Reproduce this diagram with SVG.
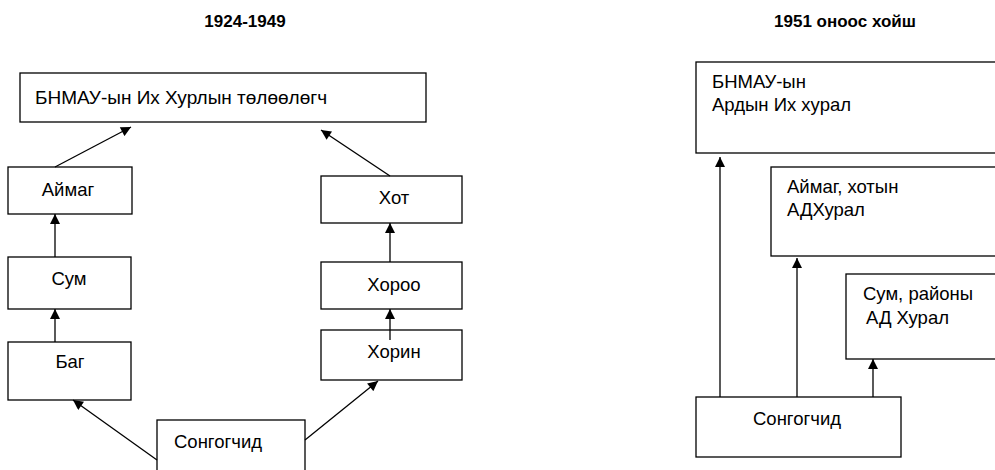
<svg xmlns="http://www.w3.org/2000/svg" width="995" height="470" viewBox="0 0 995 470">
<style>
rect{fill:#fff;stroke:#000;stroke-width:1.3}
text{font-family:"Liberation Sans",Arial,sans-serif;font-size:18.5px;fill:#000}
.b{font-size:19px}
.t{font-weight:bold;font-size:17px}
.c line{stroke:#000;stroke-width:1.3}
</style>
<defs>
<marker id="a" viewBox="0 0 10 10" refX="10" refY="5" markerWidth="11" markerHeight="10" markerUnits="userSpaceOnUse" orient="auto"><path d="M0,0L10,5L0,10z" fill="#000"/></marker>
</defs>
<rect x="0" y="0" width="995" height="470" style="stroke:none"/>
<text class="t" x="245" y="27" text-anchor="middle">1924-1949</text>
<text class="t" x="845" y="27" text-anchor="middle">1951 оноос хойш</text>
<g id="top1"><rect x="20" y="73" width="406" height="49"/><text class="b" x="35" y="104">БНМАУ-ын Их Хурлын төлөөлөгч</text></g>
<g id="aimag"><rect x="8" y="167" width="124" height="47"/><text x="68" y="196" text-anchor="middle">Аймаг</text></g>
<g id="sum"><rect x="8" y="257" width="123" height="52"/><text x="69" y="285" text-anchor="middle">Сум</text></g>
<g id="bag"><rect x="8" y="342" width="123" height="58"/><text x="70" y="368" text-anchor="middle">Баг</text></g>
<g id="hot"><rect x="321" y="176" width="141" height="47"/><text x="394" y="204" text-anchor="middle">Хот</text></g>
<g id="horoo"><rect x="321" y="262" width="141" height="47"/><text x="394" y="291" text-anchor="middle">Хороо</text></g>
<g id="horin"><rect x="321" y="330" width="141" height="50"/><text x="394" y="358" text-anchor="middle">Хорин</text></g>
<g id="songo1"><rect x="157" y="420" width="148" height="60"/><text x="174" y="448">Сонгогчид</text></g>
<g id="top2"><rect x="696" y="62" width="310" height="91"/><text x="712" y="88">БНМАУ-ын</text><text x="712" y="111">Ардын Их хурал</text></g>
<g id="aimag2"><rect x="771" y="167" width="235" height="89"/><text x="787" y="193">Аймаг, хотын</text><text x="787" y="216">АДХурал</text></g>
<g id="sum2"><rect x="846" y="274" width="160" height="85"/><text x="863" y="300">Сум, районы</text><text x="866" y="324">АД Хурал</text></g>
<g id="songo2"><rect x="696" y="397" width="205" height="60"/><text x="753" y="425">Сонгогчид</text></g>
<g class="c" id="connectors">
<line x1="55" y1="167" x2="131" y2="127" marker-end="url(#a)"/>
<line x1="390" y1="176" x2="321" y2="130" marker-end="url(#a)"/>
<line x1="55" y1="257" x2="55" y2="214" marker-end="url(#a)"/>
<line x1="55" y1="342" x2="55" y2="309" marker-end="url(#a)"/>
<line x1="157" y1="460" x2="73" y2="400" marker-end="url(#a)"/>
<line x1="305" y1="440" x2="378" y2="381" marker-end="url(#a)"/>
<line x1="390" y1="262" x2="390" y2="223" marker-end="url(#a)"/>
<line x1="390" y1="340" x2="390" y2="309" marker-end="url(#a)"/>
<line x1="720" y1="397" x2="720" y2="157" marker-end="url(#a)"/>
<line x1="797" y1="397" x2="797" y2="258" marker-end="url(#a)"/>
<line x1="873" y1="397" x2="873" y2="359" marker-end="url(#a)"/>
</g>
</svg>
